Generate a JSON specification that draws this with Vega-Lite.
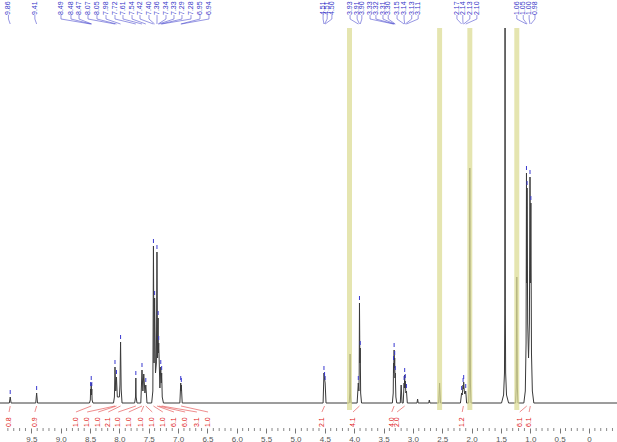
{
  "$schema": "https://vega.github.io/schema/vega-lite/v6.json",
  "width": 617,
  "height": 428,
  "padding": {"left": 0, "top": 0, "right": 0, "bottom": 14},
  "autosize": {"type": "none"},
  "background": "white",
  "config": {
    "view": {"stroke": null},
    "font": "Liberation Sans",
    "axisX": {
      "labelOverlap": false, "labelBound": false, "labelFlush": false,
      "domain": false, "grid": false, "tickColor": "#777777", "tickWidth": 1, "tickSize": 5,
      "labelFontSize": 8, "labelColor": "#555555", "labelPadding": 2, "labelFont": "Liberation Sans"
    }
  },
  "datasets": {
    "spec": [
      {"ppm": 10.05, "v": 0}, {"ppm": 9.875, "v": 0}, {"ppm": 9.86, "v": 6}, {"ppm": 9.845, "v": 0},
      {"ppm": 9.425, "v": 0}, {"ppm": 9.41, "v": 10}, {"ppm": 9.395, "v": 0},
      {"ppm": 8.51, "v": 0}, {"ppm": 8.495, "v": 3}, {"ppm": 8.49, "v": 14}, {"ppm": 8.485, "v": 8}, {"ppm": 8.48, "v": 20}, {"ppm": 8.475, "v": 8}, {"ppm": 8.47, "v": 14}, {"ppm": 8.465, "v": 3}, {"ppm": 8.45, "v": 0},
      {"ppm": 8.1, "v": 0}, {"ppm": 8.085, "v": 6}, {"ppm": 8.075, "v": 36}, {"ppm": 8.062, "v": 12}, {"ppm": 8.05, "v": 26}, {"ppm": 8.035, "v": 6}, {"ppm": 8.0, "v": 6}, {"ppm": 7.99, "v": 18}, {"ppm": 7.98, "v": 61}, {"ppm": 7.97, "v": 14}, {"ppm": 7.955, "v": 0},
      {"ppm": 7.74, "v": 0}, {"ppm": 7.725, "v": 6}, {"ppm": 7.72, "v": 25}, {"ppm": 7.715, "v": 6}, {"ppm": 7.70, "v": 0},
      {"ppm": 7.635, "v": 0}, {"ppm": 7.615, "v": 33}, {"ppm": 7.6, "v": 12}, {"ppm": 7.585, "v": 29}, {"ppm": 7.565, "v": 10}, {"ppm": 7.55, "v": 18}, {"ppm": 7.53, "v": 0},
      {"ppm": 7.45, "v": 0}, {"ppm": 7.43, "v": 12}, {"ppm": 7.42, "v": 157}, {"ppm": 7.41, "v": 40}, {"ppm": 7.40, "v": 105}, {"ppm": 7.385, "v": 30}, {"ppm": 7.37, "v": 40}, {"ppm": 7.36, "v": 151}, {"ppm": 7.35, "v": 45}, {"ppm": 7.34, "v": 85}, {"ppm": 7.337, "v": 50}, {"ppm": 7.33, "v": 60}, {"ppm": 7.31, "v": 15}, {"ppm": 7.295, "v": 36}, {"ppm": 7.287, "v": 20}, {"ppm": 7.28, "v": 30}, {"ppm": 7.27, "v": 6}, {"ppm": 7.25, "v": 0},
      {"ppm": 6.97, "v": 0}, {"ppm": 6.955, "v": 20}, {"ppm": 6.95, "v": 12}, {"ppm": 6.945, "v": 18}, {"ppm": 6.93, "v": 0},
      {"ppm": 4.53, "v": 0}, {"ppm": 4.515, "v": 30}, {"ppm": 4.505, "v": 24}, {"ppm": 4.495, "v": 20}, {"ppm": 4.48, "v": 0},
      {"ppm": 4.085, "v": 0}, {"ppm": 4.075, "v": 10}, {"ppm": 4.07, "v": 49}, {"ppm": 4.065, "v": 10}, {"ppm": 4.055, "v": 0},
      {"ppm": 3.95, "v": 0}, {"ppm": 3.93, "v": 20}, {"ppm": 3.92, "v": 12}, {"ppm": 3.915, "v": 30}, {"ppm": 3.91, "v": 100}, {"ppm": 3.903, "v": 40}, {"ppm": 3.897, "v": 55}, {"ppm": 3.89, "v": 10}, {"ppm": 3.875, "v": 0},
      {"ppm": 3.35, "v": 0}, {"ppm": 3.335, "v": 10}, {"ppm": 3.33, "v": 40}, {"ppm": 3.325, "v": 30}, {"ppm": 3.32, "v": 53}, {"ppm": 3.315, "v": 35}, {"ppm": 3.31, "v": 45}, {"ppm": 3.305, "v": 25}, {"ppm": 3.30, "v": 30}, {"ppm": 3.29, "v": 6}, {"ppm": 3.275, "v": 0},
      {"ppm": 3.215, "v": 0}, {"ppm": 3.20, "v": 18}, {"ppm": 3.185, "v": 0},
      {"ppm": 3.165, "v": 0}, {"ppm": 3.15, "v": 20}, {"ppm": 3.145, "v": 15}, {"ppm": 3.14, "v": 28}, {"ppm": 3.135, "v": 15}, {"ppm": 3.13, "v": 22}, {"ppm": 3.12, "v": 10}, {"ppm": 3.11, "v": 12}, {"ppm": 3.095, "v": 0},
      {"ppm": 2.93, "v": 0}, {"ppm": 2.92, "v": 4}, {"ppm": 2.91, "v": 0},
      {"ppm": 2.73, "v": 0}, {"ppm": 2.72, "v": 3}, {"ppm": 2.71, "v": 0},
      {"ppm": 2.56, "v": 0}, {"ppm": 2.545, "v": 20}, {"ppm": 2.53, "v": 0},
      {"ppm": 2.19, "v": 0}, {"ppm": 2.17, "v": 10}, {"ppm": 2.16, "v": 8}, {"ppm": 2.145, "v": 18}, {"ppm": 2.14, "v": 14}, {"ppm": 2.135, "v": 21}, {"ppm": 2.125, "v": 12}, {"ppm": 2.115, "v": 9}, {"ppm": 2.10, "v": 12}, {"ppm": 2.085, "v": 0},
      {"ppm": 2.05, "v": 0}, {"ppm": 2.04, "v": 20}, {"ppm": 2.03, "v": 235}, {"ppm": 2.02, "v": 20}, {"ppm": 2.01, "v": 0},
      {"ppm": 1.49, "v": 0}, {"ppm": 1.455, "v": 8}, {"ppm": 1.44, "v": 30}, {"ppm": 1.435, "v": 90}, {"ppm": 1.43, "v": 375}, {"ppm": 1.425, "v": 90}, {"ppm": 1.42, "v": 30}, {"ppm": 1.405, "v": 8}, {"ppm": 1.37, "v": 0},
      {"ppm": 1.25, "v": 0}, {"ppm": 1.24, "v": 15}, {"ppm": 1.23, "v": 126}, {"ppm": 1.22, "v": 15}, {"ppm": 1.21, "v": 0},
      {"ppm": 1.11, "v": 0}, {"ppm": 1.085, "v": 12}, {"ppm": 1.072, "v": 60}, {"ppm": 1.065, "v": 230}, {"ppm": 1.06, "v": 120}, {"ppm": 1.055, "v": 215}, {"ppm": 1.045, "v": 80}, {"ppm": 1.03, "v": 45}, {"ppm": 1.015, "v": 80}, {"ppm": 1.005, "v": 226}, {"ppm": 0.998, "v": 120}, {"ppm": 0.99, "v": 200}, {"ppm": 0.98, "v": 50}, {"ppm": 0.965, "v": 12}, {"ppm": 0.94, "v": 0},
      {"ppm": -0.5, "v": 0}
    ],
    "bars": [{"ppm": 4.08}, {"ppm": 2.545}, {"ppm": 2.03}, {"ppm": 1.23}],
    "minor": [
      {"ppm": 9.9}, {"ppm": 9.8}, {"ppm": 9.7}, {"ppm": 9.6}, {"ppm": 9.4}, {"ppm": 9.3}, {"ppm": 9.2}, {"ppm": 9.1},
      {"ppm": 8.9}, {"ppm": 8.8}, {"ppm": 8.7}, {"ppm": 8.6}, {"ppm": 8.4}, {"ppm": 8.3}, {"ppm": 8.2}, {"ppm": 8.1},
      {"ppm": 7.9}, {"ppm": 7.8}, {"ppm": 7.7}, {"ppm": 7.6}, {"ppm": 7.4}, {"ppm": 7.3}, {"ppm": 7.2}, {"ppm": 7.1},
      {"ppm": 6.9}, {"ppm": 6.8}, {"ppm": 6.7}, {"ppm": 6.6}, {"ppm": 6.4}, {"ppm": 6.3}, {"ppm": 6.2}, {"ppm": 6.1},
      {"ppm": 5.9}, {"ppm": 5.8}, {"ppm": 5.7}, {"ppm": 5.6}, {"ppm": 5.4}, {"ppm": 5.3}, {"ppm": 5.2}, {"ppm": 5.1},
      {"ppm": 4.9}, {"ppm": 4.8}, {"ppm": 4.7}, {"ppm": 4.6}, {"ppm": 4.4}, {"ppm": 4.3}, {"ppm": 4.2}, {"ppm": 4.1},
      {"ppm": 3.9}, {"ppm": 3.8}, {"ppm": 3.7}, {"ppm": 3.6}, {"ppm": 3.4}, {"ppm": 3.3}, {"ppm": 3.2}, {"ppm": 3.1},
      {"ppm": 2.9}, {"ppm": 2.8}, {"ppm": 2.7}, {"ppm": 2.6}, {"ppm": 2.4}, {"ppm": 2.3}, {"ppm": 2.2}, {"ppm": 2.1},
      {"ppm": 1.9}, {"ppm": 1.8}, {"ppm": 1.7}, {"ppm": 1.6}, {"ppm": 1.4}, {"ppm": 1.3}, {"ppm": 1.2}, {"ppm": 1.1},
      {"ppm": 0.9}, {"ppm": 0.8}, {"ppm": 0.7}, {"ppm": 0.6}, {"ppm": 0.4}, {"ppm": 0.3}, {"ppm": 0.2}, {"ppm": 0.1},
      {"ppm": -0.1}, {"ppm": -0.2}, {"ppm": -0.3}, {"ppm": -0.4}
    ],
    "peaks": [
      {"lab": "9.86", "lx": 9.89, "pk": 9.86, "h": 6},
      {"lab": "9.41", "lx": 9.44, "pk": 9.41, "h": 10},
      {"lab": "8.49", "lx": 8.995, "pk": 8.49, "h": 14},
      {"lab": "8.48", "lx": 8.825, "pk": 8.48, "h": 20},
      {"lab": "8.47", "lx": 8.688, "pk": 8.47, "h": 14},
      {"lab": "8.07", "lx": 8.535, "pk": 8.075, "h": 36},
      {"lab": "8.05", "lx": 8.382, "pk": 8.05, "h": 26},
      {"lab": "7.98", "lx": 8.228, "pk": 7.98, "h": 61},
      {"lab": "7.72", "lx": 8.075, "pk": 7.72, "h": 25},
      {"lab": "7.61", "lx": 7.939, "pk": 7.615, "h": 33},
      {"lab": "7.54", "lx": 7.785, "pk": 7.55, "h": 18},
      {"lab": "7.42", "lx": 7.649, "pk": 7.42, "h": 157},
      {"lab": "7.40", "lx": 7.496, "pk": 7.40, "h": 105},
      {"lab": "7.36", "lx": 7.359, "pk": 7.36, "h": 151},
      {"lab": "7.34", "lx": 7.206, "pk": 7.34, "h": 85},
      {"lab": "7.33", "lx": 7.07, "pk": 7.33, "h": 60},
      {"lab": "7.29", "lx": 6.934, "pk": 7.295, "h": 36},
      {"lab": "7.28", "lx": 6.78, "pk": 7.28, "h": 30},
      {"lab": "6.95", "lx": 6.627, "pk": 6.955, "h": 20},
      {"lab": "6.94", "lx": 6.474, "pk": 6.945, "h": 18},
      {"lab": "4.51", "lx": 4.53, "pk": 4.515, "h": 30},
      {"lab": "4.51", "lx": 4.46, "pk": 4.505, "h": 24},
      {"lab": "4.50", "lx": 4.38, "pk": 4.495, "h": 20},
      {"lab": "3.93", "lx": 4.07, "pk": 3.93, "h": 20},
      {"lab": "3.91", "lx": 3.95, "pk": 3.91, "h": 100},
      {"lab": "3.90", "lx": 3.87, "pk": 3.897, "h": 55},
      {"lab": "3.33", "lx": 3.73, "pk": 3.33, "h": 40},
      {"lab": "3.32", "lx": 3.63, "pk": 3.32, "h": 53},
      {"lab": "3.31", "lx": 3.51, "pk": 3.31, "h": 45},
      {"lab": "3.30", "lx": 3.42, "pk": 3.30, "h": 30},
      {"lab": "3.15", "lx": 3.27, "pk": 3.15, "h": 20},
      {"lab": "3.14", "lx": 3.15, "pk": 3.14, "h": 28},
      {"lab": "3.13", "lx": 3.02, "pk": 3.13, "h": 22},
      {"lab": "3.11", "lx": 2.91, "pk": 3.11, "h": 12},
      {"lab": "2.17", "lx": 2.25, "pk": 2.17, "h": 10},
      {"lab": "2.14", "lx": 2.15, "pk": 2.145, "h": 18},
      {"lab": "2.13", "lx": 2.03, "pk": 2.135, "h": 21},
      {"lab": "2.10", "lx": 1.91, "pk": 2.10, "h": 12},
      {"lab": "1.06", "lx": 1.23, "pk": 1.065, "h": 230},
      {"lab": "1.05", "lx": 1.12, "pk": 1.055, "h": 215},
      {"lab": "1.00", "lx": 1.02, "pk": 1.005, "h": 226},
      {"lab": "0.98", "lx": 0.92, "pk": 0.99, "h": 200}
    ],
    "integrals": [
      {"t": "0.8", "lx": 9.88, "a": 9.86},
      {"t": "0.9", "lx": 9.44, "a": 9.41},
      {"t": "1.0", "lx": 8.74, "a": 8.48},
      {"t": "1.0", "lx": 8.55, "a": 8.075},
      {"t": "1.0", "lx": 8.36, "a": 8.05},
      {"t": "2.1", "lx": 8.19, "a": 7.98},
      {"t": "1.0", "lx": 8.02, "a": 7.72},
      {"t": "1.0", "lx": 7.84, "a": 7.615},
      {"t": "1.0", "lx": 7.63, "a": 7.585},
      {"t": "1.0", "lx": 7.44, "a": 7.55},
      {"t": "1.0", "lx": 7.26, "a": 7.42},
      {"t": "6.1", "lx": 7.07, "a": 7.36},
      {"t": "6.0", "lx": 6.88, "a": 7.33},
      {"t": "3.1", "lx": 6.68, "a": 7.28},
      {"t": "1.0", "lx": 6.49, "a": 6.95},
      {"t": "2.1", "lx": 4.55, "a": 4.505},
      {"t": "4.1", "lx": 4.02, "a": 3.91},
      {"t": "4.0", "lx": 3.36, "a": 3.32},
      {"t": "2.0", "lx": 3.27, "a": 3.14},
      {"t": "1.2", "lx": 2.16, "a": 2.14},
      {"t": "6.1", "lx": 1.18, "a": 1.06},
      {"t": "6.1", "lx": 1.02, "a": 1.0}
    ]
  },
  "layer": [
    {
      "data": {"name": "spec"},
      "mark": {"type": "line", "color": "#3a3a3a", "strokeWidth": 1, "interpolate": "linear"},
      "encoding": {
        "x": {
          "field": "ppm", "type": "quantitative", "title": null,
          "scale": {"domain": [-0.477, 10.034], "reverse": true, "nice": false, "zero": false},
          "axis": {"values": [9.5, 9, 8.5, 8, 7.5, 7, 6.5, 6, 5.5, 5, 4.5, 4, 3.5, 3, 2.5, 2, 1.5, 1, 0.5, 0], "labelExpr": "datum.value == 0 ? '0' : format(datum.value, '.1f')", "labelOverlap": false}
        },
        "y": {"field": "v", "type": "quantitative", "scale": {"domain": [-25, 403], "nice": false, "zero": false}, "axis": null}
      }
    },
    {
      "data": {"name": "minor"},
      "mark": {"type": "rule", "color": "#888888", "strokeWidth": 1},
      "encoding": {
        "x": {"field": "ppm", "type": "quantitative", "title": null, "axis": {"values": [9.5, 9, 8.5, 8, 7.5, 7, 6.5, 6, 5.5, 5, 4.5, 4, 3.5, 3, 2.5, 2, 1.5, 1, 0.5, 0], "labelExpr": "datum.value == 0 ? '0' : format(datum.value, '.1f')", "labelOverlap": false}},
        "y": {"datum": -25, "type": "quantitative"},
        "y2": {"datum": -28}
      }
    },
    {
      "data": {"name": "bars"},
      "mark": {"type": "rule", "color": "#dcdc96", "strokeWidth": 5, "opacity": 0.75},
      "encoding": {
        "x": {"field": "ppm", "type": "quantitative", "title": null, "axis": {"values": [9.5, 9, 8.5, 8, 7.5, 7, 6.5, 6, 5.5, 5, 4.5, 4, 3.5, 3, 2.5, 2, 1.5, 1, 0.5, 0], "labelExpr": "datum.value == 0 ? '0' : format(datum.value, '.1f')", "labelOverlap": false}},
        "y": {"datum": -7, "type": "quantitative"},
        "y2": {"datum": 375}
      }
    },
    {
      "data": {"name": "integrals"},
      "mark": {"type": "rule", "color": "#e04040", "strokeWidth": 0.6},
      "encoding": {
        "x": {"field": "lx", "type": "quantitative", "title": null, "axis": {"values": [9.5, 9, 8.5, 8, 7.5, 7, 6.5, 6, 5.5, 5, 4.5, 4, 3.5, 3, 2.5, 2, 1.5, 1, 0.5, 0], "labelExpr": "datum.value == 0 ? '0' : format(datum.value, '.1f')", "labelOverlap": false}},
        "x2": {"field": "a"},
        "y": {"datum": -9, "type": "quantitative"},
        "y2": {"datum": -3}
      }
    },
    {
      "data": {"name": "integrals"},
      "mark": {"type": "text", "color": "#e02020", "angle": 270, "align": "left", "baseline": "middle", "fontSize": 7, "font": "Liberation Sans"},
      "encoding": {
        "x": {"field": "lx", "type": "quantitative", "title": null, "axis": {"values": [9.5, 9, 8.5, 8, 7.5, 7, 6.5, 6, 5.5, 5, 4.5, 4, 3.5, 3, 2.5, 2, 1.5, 1, 0.5, 0], "labelExpr": "datum.value == 0 ? '0' : format(datum.value, '.1f')", "labelOverlap": false}},
        "y": {"datum": -24, "type": "quantitative"},
        "text": {"field": "t"}
      }
    },
    {
      "data": {"name": "peaks"},
      "mark": {"type": "rule", "color": "#3a3ad0", "strokeWidth": 1, "yOffset": -3, "y2Offset": -7},
      "encoding": {
        "x": {"field": "pk", "type": "quantitative", "title": null, "axis": {"values": [9.5, 9, 8.5, 8, 7.5, 7, 6.5, 6, 5.5, 5, 4.5, 4, 3.5, 3, 2.5, 2, 1.5, 1, 0.5, 0], "labelExpr": "datum.value == 0 ? '0' : format(datum.value, '.1f')", "labelOverlap": false}},
        "y": {"field": "h", "type": "quantitative"},
        "y2": {"field": "h"}
      }
    },
    {
      "data": {"name": "peaks"},
      "mark": {"type": "rule", "color": "#5050d0", "strokeWidth": 0.6},
      "encoding": {
        "x": {"field": "lx", "type": "quantitative", "title": null, "axis": {"values": [9.5, 9, 8.5, 8, 7.5, 7, 6.5, 6, 5.5, 5, 4.5, 4, 3.5, 3, 2.5, 2, 1.5, 1, 0.5, 0], "labelExpr": "datum.value == 0 ? '0' : format(datum.value, '.1f')", "labelOverlap": false}},
        "y": {"datum": 388, "type": "quantitative"},
        "y2": {"datum": 384}
      }
    },
    {
      "data": {"name": "peaks"},
      "mark": {"type": "rule", "color": "#5050d0", "strokeWidth": 0.6},
      "encoding": {
        "x": {"field": "lx", "type": "quantitative", "title": null, "axis": {"values": [9.5, 9, 8.5, 8, 7.5, 7, 6.5, 6, 5.5, 5, 4.5, 4, 3.5, 3, 2.5, 2, 1.5, 1, 0.5, 0], "labelExpr": "datum.value == 0 ? '0' : format(datum.value, '.1f')", "labelOverlap": false}},
        "x2": {"field": "pk"},
        "y": {"datum": 384, "type": "quantitative"},
        "y2": {"datum": 379}
      }
    },
    {
      "data": {"name": "peaks"},
      "mark": {"type": "text", "color": "#3535c8", "angle": 270, "align": "left", "baseline": "middle", "fontSize": 7, "font": "Liberation Sans"},
      "encoding": {
        "x": {"field": "lx", "type": "quantitative", "title": null, "axis": {"values": [9.5, 9, 8.5, 8, 7.5, 7, 6.5, 6, 5.5, 5, 4.5, 4, 3.5, 3, 2.5, 2, 1.5, 1, 0.5, 0], "labelExpr": "datum.value == 0 ? '0' : format(datum.value, '.1f')", "labelOverlap": false}},
        "y": {"datum": 388, "type": "quantitative"},
        "text": {"field": "lab"}
      }
    }
  ]
}
